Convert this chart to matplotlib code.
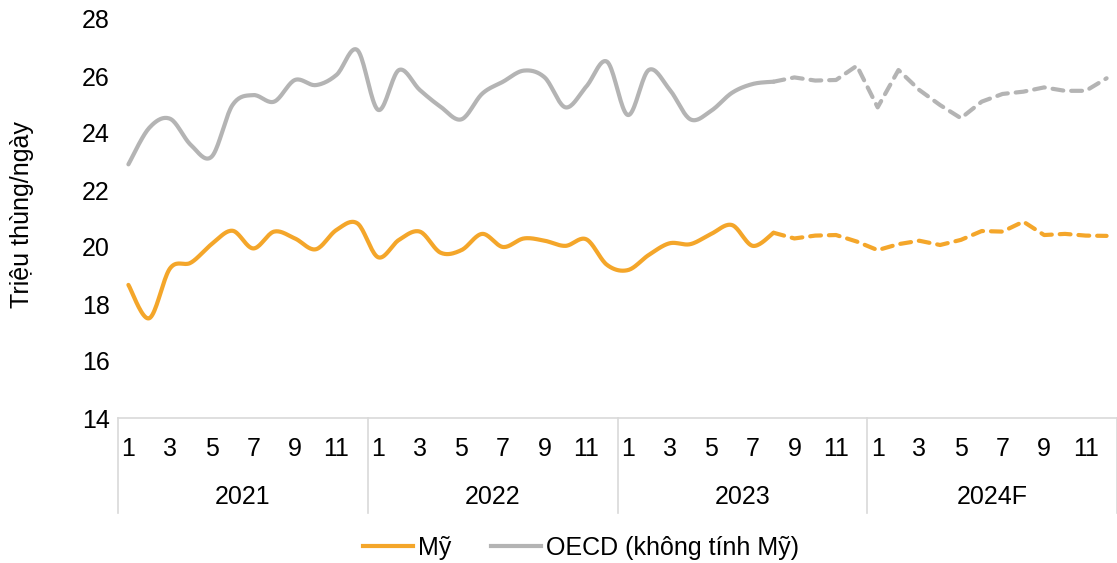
import numpy as np
import matplotlib
matplotlib.use("Agg")
import matplotlib.pyplot as plt
import matplotlib.transforms as mtransforms
from matplotlib.lines import Line2D

plt.rcParams['font.family'] = ['Liberation Sans', 'DejaVu Sans']

years = ["2021", "2022", "2023", "2024F"]
month_labels = ["1", "", "3", "", "5", "", "7", "", "9", "", "11", ""]

us = [18.67, 17.5, 19.25, 19.45, 20.1, 20.57, 19.95, 20.54, 20.3, 19.92, 20.6, 20.83,
      19.64, 20.25, 20.54, 19.8, 19.89, 20.46, 20.0, 20.3, 20.22, 20.04, 20.27, 19.37,
      19.19, 19.72, 20.13, 20.1, 20.46, 20.77, 20.04, 20.5, 20.3, 20.4, 20.42, 20.19,
      19.89, 20.1, 20.22, 20.07, 20.25, 20.56, 20.54, 20.89, 20.42, 20.46, 20.4, 20.39]

oecd = [22.9, 24.18, 24.5, 23.58, 23.17, 24.98, 25.33, 25.1, 25.86, 25.68, 26.04, 26.91,
        24.81, 26.21, 25.51, 24.92, 24.48, 25.38, 25.8, 26.19, 25.95, 24.9, 25.63, 26.5,
        24.63, 26.21, 25.53, 24.48, 24.78, 25.41, 25.72, 25.8, 25.95, 25.84, 25.86, 26.36,
        24.9, 26.21, 25.51, 24.98, 24.52, 25.1, 25.37, 25.45, 25.6, 25.48, 25.48, 25.92]

actual_end = 31  # last actual month index (Aug 2023)

US_COLOR = "#F4A62A"
OECD_COLOR = "#B4B4B4"
FS = 18


def smooth(x, y, n=20, tension=0.5):
    """Catmull-Rom style smoothing used only for drawing the curve."""
    x = np.asarray(x, float)
    y = np.asarray(y, float)
    xs, ys = [], []
    for i in range(len(x) - 1):
        p0 = (x[i - 1], y[i - 1]) if i > 0 else (x[i], y[i])
        p1 = (x[i], y[i])
        p2 = (x[i + 1], y[i + 1])
        p3 = (x[i + 2], y[i + 2]) if i + 2 < len(x) else (x[i + 1], y[i + 1])
        t = np.linspace(0, 1, n, endpoint=False)
        for k in range(2):
            m1 = tension * (p2[k] - p0[k])
            m2 = tension * (p3[k] - p1[k])
            h00 = 2 * t**3 - 3 * t**2 + 1
            h10 = t**3 - 2 * t**2 + t
            h01 = -2 * t**3 + 3 * t**2
            h11 = t**3 - t**2
            v = h00 * p1[k] + h10 * m1 + h01 * p2[k] + h11 * m2
            (xs if k == 0 else ys).append(v)
    xs.append(np.array([x[-1]]))
    ys.append(np.array([y[-1]]))
    return np.concatenate(xs), np.concatenate(ys)


fig = plt.figure(figsize=(11.17, 5.63), dpi=100)
ax = fig.add_axes([118 / 1117, 1 - 418 / 563, (1117 - 118) / 1117, (418 - 19) / 563])

x = np.arange(len(us))
for data, color in [(us, US_COLOR), (oecd, OECD_COLOR)]:
    xs, ys = smooth(x[:actual_end + 1], data[:actual_end + 1])
    ax.plot(xs, ys, color=color, lw=3, solid_capstyle='round', solid_joinstyle='round')
    ax.plot(x[actual_end:], data[actual_end:], color=color, lw=3, linestyle=(0, (2.6, 1.9)),
            dash_capstyle='round', solid_joinstyle='round')

ax.set_xlim(-0.5, 47.5)
ax.set_ylim(14, 28)
ax.set_yticks(np.arange(14, 29, 2))
ax.set_yticklabels([str(v) for v in range(14, 29, 2)])
ax.set_xticks(x)
ax.set_xticklabels(month_labels * len(years))
ax.tick_params(axis='both', length=0, labelsize=FS, colors='black')
ax.tick_params(axis='x', pad=14)
ax.tick_params(axis='y', pad=6)
for s in ['top', 'right', 'left']:
    ax.spines[s].set_visible(False)
ax.spines['bottom'].set_color('#D9D9D9')
ax.spines['bottom'].set_linewidth(1.2)

trans = mtransforms.blended_transform_factory(ax.transData, ax.transAxes)
for i, yr in enumerate(years):
    ax.text(i * 12 + 5.5, -0.197, yr, transform=trans, ha='center', va='center', fontsize=FS)
for b in range(len(years) + 1):
    xb = b * 12 - 0.5
    ax.add_line(Line2D([xb, xb], [0, -0.237], transform=trans, color='#D9D9D9', lw=1.2, clip_on=False))

ax.set_ylabel("Triệu thùng/ngày", fontsize=FS, va='center')
ax.yaxis.set_label_coords((22 - 118) / (1117 - 118), 0.51)

handles = [Line2D([], [], color=US_COLOR, lw=3), Line2D([], [], color=OECD_COLOR, lw=3)]
fig.legend(handles, ["Mỹ", "OECD (không tính Mỹ)"], loc='center', bbox_to_anchor=(0.52, 1 - 548 / 563),
           ncol=2, frameon=False, fontsize=FS, handlelength=2.0, handletextpad=0.2, columnspacing=1.6)

fig.savefig("out.png", dpi=100)
